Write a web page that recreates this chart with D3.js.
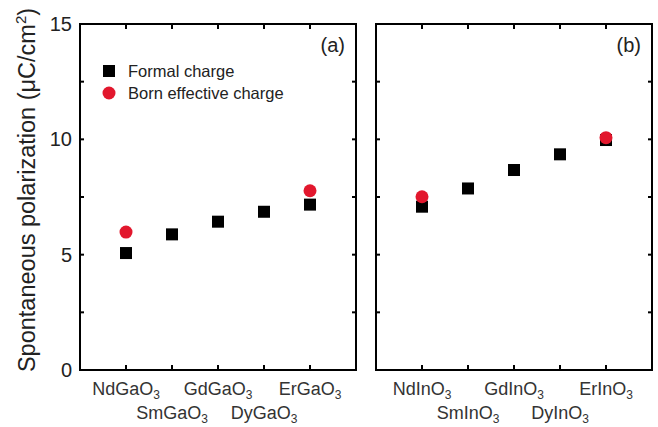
<!DOCTYPE html>
<html>
<head>
<meta charset="utf-8">
<script src="https://cdn.jsdelivr.net/npm/d3@7"></script>
<style>
  body { margin: 0; background: #fff; }
  text { font-family: "Liberation Sans", Arial, sans-serif; }
</style>
</head>
<body>
<div id="chart"></div>
<script>
// data
var gaCats = ["NdGa", "SmGa", "GdGa", "DyGa", "ErGa"];
var inCats = ["NdIn", "SmIn", "GdIn", "DyIn", "ErIn"];
var gaFormal = [5.07, 5.88, 6.43, 6.86, 7.17];
var gaBorn = [5.98, null, null, null, 7.77];
var inFormal = [7.08, 7.87, 8.67, 9.35, 9.97];
var inBorn = [7.51, null, null, null, 10.07];
var yTicks = [0, 5, 10, 15];
var yMinor = [2.5, 7.5, 12.5];

var W = 658, H = 427;
var top_ = 24, bottom = 370;
var red = "#e2172d";

var svg = d3.select("#chart").append("svg")
  .attr("width", W).attr("height", H);

var y = d3.scaleLinear().domain([0, 15]).range([bottom, top_]);

function panel(x0, cats, formal, born, tag, showY) {
  var x = d3.scaleLinear().domain([0, 6]).range([x0, x0 + 276]);
  var g = svg.append("g");

  // frame
  g.append("rect")
    .attr("x", x(0)).attr("y", y(15))
    .attr("width", x(6) - x(0)).attr("height", y(0) - y(15))
    .attr("fill", "none").attr("stroke", "#000").attr("stroke-width", 2);

  // ticks inward
  var idx = d3.range(1, cats.length + 1);
  g.selectAll(".xb").data(idx).enter().append("line")
    .attr("x1", function(d){ return x(d); }).attr("x2", function(d){ return x(d); })
    .attr("y1", y(0)).attr("y2", y(0) - 5)
    .attr("stroke", "#000").attr("stroke-width", 2);
  g.selectAll(".xt").data(idx).enter().append("line")
    .attr("x1", function(d){ return x(d); }).attr("x2", function(d){ return x(d); })
    .attr("y1", y(15)).attr("y2", y(15) + 5)
    .attr("stroke", "#000").attr("stroke-width", 2);
  var allY = yTicks.concat(yMinor);
  g.selectAll(".yl").data(allY).enter().append("line")
    .attr("x1", x(0)).attr("x2", x(0) + 4)
    .attr("y1", function(d){ return y(d); }).attr("y2", function(d){ return y(d); })
    .attr("stroke", "#000").attr("stroke-width", 2);
  g.selectAll(".yr").data(allY).enter().append("line")
    .attr("x1", x(6)).attr("x2", x(6) - 4)
    .attr("y1", function(d){ return y(d); }).attr("y2", function(d){ return y(d); })
    .attr("stroke", "#000").attr("stroke-width", 2);

  if (showY) {
    g.selectAll(".ylab").data(yTicks).enter().append("text")
      .attr("x", x(0) - 8).attr("y", function(d){ return y(d) + 7; })
      .attr("text-anchor", "end").attr("font-size", 20).attr("fill", "#222")
      .text(function(d){ return d; });
  }

  // category labels, staggered
  var lab = g.selectAll(".xlab").data(cats).enter().append("text")
    .attr("x", function(d, i){ return x(i + 1); })
    .attr("y", function(d, i){ return i % 2 === 0 ? 395 : 419; })
    .attr("text-anchor", "middle").attr("font-size", 18).attr("fill", "#333");
  lab.append("tspan").text(function(d){ return d + "O"; });
  lab.append("tspan").attr("dy", 4).attr("font-size", 12).text("3");

  // formal charge squares
  var s = 12;
  g.selectAll(".sq").data(formal).enter().append("rect")
    .attr("x", function(d, i){ return x(i + 1) - s / 2; })
    .attr("y", function(d){ return y(d) - s / 2; })
    .attr("width", s).attr("height", s).attr("fill", "#000");

  // born effective charge circles
  g.selectAll(".ci").data(born.map(function(v, i){ return {i: i, v: v}; })
      .filter(function(d){ return d.v != null; }))
    .enter().append("circle")
    .attr("cx", function(d){ return x(d.i + 1); })
    .attr("cy", function(d){ return y(d.v); })
    .attr("r", 6.5).attr("fill", red);

  g.append("text")
    .attr("x", x(6) - 11).attr("y", 52)
    .attr("text-anchor", "end").attr("font-size", 20).attr("fill", "#222")
    .text(tag);
}

panel(80, gaCats, gaFormal, gaBorn, "(a)", true);
panel(376, inCats, inFormal, inBorn, "(b)", false);

// legend
var leg = svg.append("g");
leg.append("rect").attr("x", 103).attr("y", 65).attr("width", 12).attr("height", 12).attr("fill", "#000");
leg.append("text").attr("x", 128).attr("y", 77).attr("font-size", 16.5).attr("fill", "#222").text("Formal charge");
leg.append("circle").attr("cx", 109).attr("cy", 93).attr("r", 6.5).attr("fill", red);
leg.append("text").attr("x", 128).attr("y", 99).attr("font-size", 16.5).attr("fill", "#222").text("Born effective charge");

// y title
var yt = svg.append("text")
  .attr("transform", "translate(35,190) rotate(-90)")
  .attr("text-anchor", "middle").attr("font-size", 23.5).attr("fill", "#222");
yt.append("tspan").text("Spontaneous polarization (\u03bcC/cm");
yt.append("tspan").attr("dy", -9).attr("font-size", 15).text("2");
yt.append("tspan").attr("dy", 9).text(")");
</script>
</body>
</html>
